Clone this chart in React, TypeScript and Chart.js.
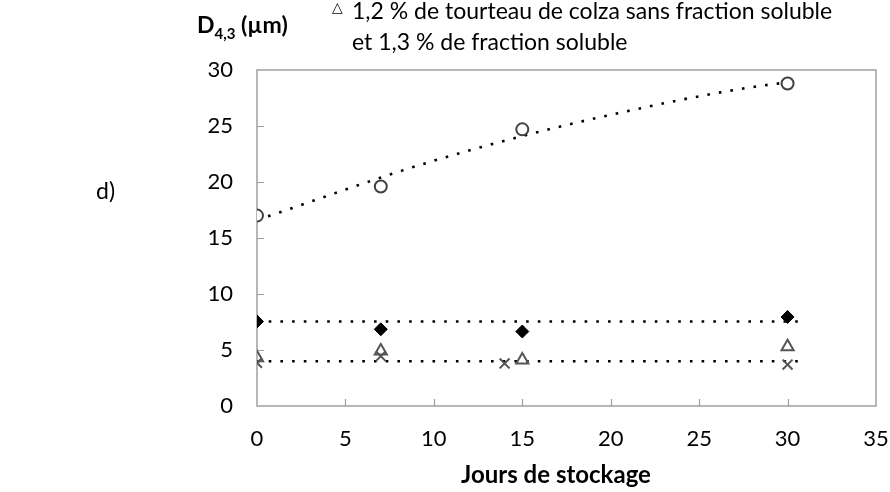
import React, { useEffect, useRef } from "react";
import { Chart, registerables } from "chart.js";

Chart.register(...registerables);

// ---- data ----
const xTicks = [0, 5, 10, 15, 20, 25, 30, 35];
const yTicks = [0, 5, 10, 15, 20, 25, 30];

const circleX = [0, 7, 15, 30];
const circleY = [17.0, 19.6, 24.7, 28.8];

const diamondX = [0, 7, 15, 30];
const diamondY = [7.55, 6.85, 6.65, 7.95];

const triangleX = [0, 7, 15, 30];
const triangleY = [4.3, 4.9, 4.1, 5.3];

const crossX = [0, 7, 14, 30];
const crossY = [3.85, 4.45, 3.8, 3.7];

// dotted trend lines
const trendCurveX = [0, 10, 20, 30, 30.6];
const trendCurveY = [16.6, 21.9, 26.0, 28.9, 28.95];
const trendFlatX = [0, 30.6];
const trendDiamondY = [7.55, 7.55];
const trendLowY = [4.0, 4.0];

const FONT = "Lato, 'Open Sans', sans-serif";
const AXIS_COLOR = "#a0a0a0";

const toPts = (xs: number[], ys: number[]) => xs.map((x, i) => ({ x, y: ys[i] }));

const framePlugin = {
  id: "frame",
  beforeDatasetsDraw(chart: any) {
    const { ctx, chartArea: a, scales } = chart;
    ctx.save();
    ctx.strokeStyle = AXIS_COLOR;
    ctx.lineWidth = 1.5;
    ctx.strokeRect(a.left, a.top, a.right - a.left, a.bottom - a.top);
    ctx.lineWidth = 1.2;
    ctx.beginPath();
    xTicks.forEach((v) => {
      if (v === xTicks[0] || v === xTicks[xTicks.length - 1]) return;
      const px = Math.round(scales.x.getPixelForValue(v)) + 0.5;
      ctx.moveTo(px, a.bottom);
      ctx.lineTo(px, a.bottom - 7);
    });
    yTicks.forEach((v) => {
      if (v === yTicks[0] || v === yTicks[yTicks.length - 1]) return;
      const py = Math.round(scales.y.getPixelForValue(v)) + 0.5;
      ctx.moveTo(a.left, py);
      ctx.lineTo(a.left + 7, py);
    });
    ctx.stroke();
    ctx.restore();
  },
};

export default function App() {
  const ref = useRef<HTMLCanvasElement>(null);

  useEffect(() => {
    if (!ref.current) return;
    const dotted = {
      showLine: true,
      pointRadius: 0,
      borderColor: "#000",
      borderWidth: 2.6,
      borderDash: [2.6, 9.1],
      borderCapStyle: "butt" as const,
      fill: false,
    };
    const chart = new Chart(ref.current, {
      type: "scatter",
      data: {
        datasets: [
          {
            label: "diamonds",
            data: toPts(diamondX, diamondY),
            pointStyle: "rectRot",
            pointRadius: 6.5,
            backgroundColor: "#000",
            borderColor: "#000",
            borderWidth: 1,
          },
          {
            label: "circles",
            data: toPts(circleX, circleY),
            pointStyle: "circle",
            pointRadius: 6,
            backgroundColor: "#fff",
            borderColor: "#404040",
            borderWidth: 2,
          },
          {
            label: "triangles",
            data: toPts(triangleX, triangleY),
            pointStyle: "triangle",
            pointRadius: 7,
            backgroundColor: "rgba(0,0,0,0)",
            borderColor: "#555",
            borderWidth: 2,
          },
          {
            label: "crosses",
            data: toPts(crossX, crossY),
            pointStyle: "crossRot",
            pointRadius: 7,
            borderColor: "#555",
            borderWidth: 2,
          },
          { label: "trendCircle", data: toPts(trendCurveX, trendCurveY), cubicInterpolationMode: "monotone", ...dotted },
          { label: "trendDiamond", data: toPts(trendFlatX, trendDiamondY), ...dotted },
          { label: "trendLow", data: toPts(trendFlatX, trendLowY), ...dotted },
        ] as any,
      },
      options: {
        responsive: false,
        animation: false,
        events: [],
        layout: { padding: { left: 0, right: 14, top: 70, bottom: 0 } },
        plugins: { legend: { display: false }, tooltip: { enabled: false } },
        scales: {
          x: {
            type: "linear",
            min: 0,
            max: 35,
            afterFit: (s: any) => {
              s.height = 86;
              s.paddingLeft = 0;
              s.paddingRight = 0;
            },
            afterBuildTicks: (s: any) => {
              s.ticks = xTicks.map((v) => ({ value: v }));
            },
            grid: { display: false, drawTicks: false },
            border: { display: false },
            ticks: { color: "#000", font: { family: FONT, size: 22 }, padding: 20, maxRotation: 0 },
          },
          y: {
            type: "linear",
            min: 0,
            max: 30,
            afterFit: (s: any) => {
              s.width = 257;
              s.paddingTop = 0;
              s.paddingBottom = 0;
            },
            afterBuildTicks: (s: any) => {
              s.ticks = yTicks.map((v) => ({ value: v }));
            },
            grid: { display: false, drawTicks: false },
            border: { display: false },
            ticks: { color: "#000", font: { family: FONT, size: 22 }, padding: 24 },
          },
        },
      },
      plugins: [framePlugin],
    });
    return () => chart.destroy();
  }, []);

  const base: React.CSSProperties = {
    position: "absolute",
    fontFamily: FONT,
    color: "#000",
    whiteSpace: "nowrap",
    lineHeight: 1,
  };

  return (
    <div style={{ position: "fixed", left: 0, top: 0, width: 890, height: 492, background: "#fff", overflow: "hidden" }}>
      <canvas ref={ref} width={890} height={492} style={{ position: "absolute", left: 0, top: 0 }} />
      <div style={{ ...base, left: 197, top: 13, fontSize: 23, fontWeight: 700 }}>
        D<sub style={{ fontSize: 15, verticalAlign: "-6px" }}>4,3</sub> (µm)
      </div>
      <div style={{ ...base, left: 332, top: 0, fontSize: 14 }}>△</div>
      <div style={{ ...base, left: 352, top: -1, fontSize: 23 }}>1,2 % de tourteau de colza sans fraction soluble</div>
      <div style={{ ...base, left: 352, top: 30, fontSize: 23 }}>et 1,3 % de fraction soluble</div>
      <div style={{ ...base, left: 96, top: 179, fontSize: 23 }}>d)</div>
      <div style={{ ...base, left: 556, top: 462, fontSize: 24, fontWeight: 700, transform: "translateX(-50%)" }}>
        Jours de stockage
      </div>
    </div>
  );
}
